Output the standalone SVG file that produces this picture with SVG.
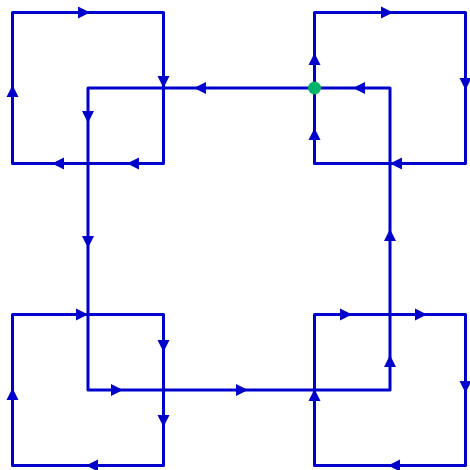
<svg xmlns="http://www.w3.org/2000/svg" xmlns:xlink="http://www.w3.org/1999/xlink" width="470" height="470" viewBox="0 0 470 470">
<style>
.loop{fill:none;stroke:#0000cc;stroke-width:3;stroke-linejoin:round}
.arr{fill:#0000cc}
</style>
<defs>
<path id="a" d="M0,0 L-12,-6 L-12,6 Z"/>
</defs>
<rect width="470" height="470" fill="#ffffff"/>
<g id="connectors">
<rect id="loop-center" class="loop" x="88" y="88" width="302" height="302"/>
<rect id="loop-tl" class="loop" x="12.5" y="12.5" width="151" height="151"/>
<rect id="loop-tr" class="loop" x="314.5" y="12.5" width="151" height="151"/>
<rect id="loop-bl" class="loop" x="12.5" y="314.5" width="151" height="151"/>
<rect id="loop-br" class="loop" x="314.5" y="314.5" width="151" height="151"/>
<g class="arr">
<!-- top-left square -->
<use xlink:href="#a" transform="translate(90,12.5)"/>
<use xlink:href="#a" transform="translate(163.5,88) rotate(90)"/>
<use xlink:href="#a" transform="translate(127,163.5) rotate(180)"/>
<use xlink:href="#a" transform="translate(52,163.5) rotate(180)"/>
<use xlink:href="#a" transform="translate(12.5,85) rotate(-90)"/>
<!-- top-right square -->
<use xlink:href="#a" transform="translate(393,12.5)"/>
<use xlink:href="#a" transform="translate(465.5,90) rotate(90)"/>
<use xlink:href="#a" transform="translate(390,163.5) rotate(180)"/>
<use xlink:href="#a" transform="translate(314.5,53) rotate(-90)"/>
<use xlink:href="#a" transform="translate(314.5,128) rotate(-90)"/>
<!-- central square -->
<use xlink:href="#a" transform="translate(353,88) rotate(180)"/>
<use xlink:href="#a" transform="translate(194,88) rotate(180)"/>
<use xlink:href="#a" transform="translate(88,123) rotate(90)"/>
<use xlink:href="#a" transform="translate(88,248) rotate(90)"/>
<use xlink:href="#a" transform="translate(123,390)"/>
<use xlink:href="#a" transform="translate(248,390)"/>
<use xlink:href="#a" transform="translate(390,355) rotate(-90)"/>
<use xlink:href="#a" transform="translate(390,229) rotate(-90)"/>
<!-- bottom-left square -->
<use xlink:href="#a" transform="translate(88,314.5)"/>
<use xlink:href="#a" transform="translate(163.5,352) rotate(90)"/>
<use xlink:href="#a" transform="translate(163.5,427) rotate(90)"/>
<use xlink:href="#a" transform="translate(86,465.5) rotate(180)"/>
<use xlink:href="#a" transform="translate(12.5,388) rotate(-90)"/>
<!-- bottom-right square -->
<use xlink:href="#a" transform="translate(352,314.5)"/>
<use xlink:href="#a" transform="translate(427,314.5)"/>
<use xlink:href="#a" transform="translate(465.5,393) rotate(90)"/>
<use xlink:href="#a" transform="translate(388,465.5) rotate(180)"/>
<use xlink:href="#a" transform="translate(314.5,389) rotate(-90)"/>
</g>
</g>
<g id="node-start">
<circle cx="314.5" cy="88" r="6.5" fill="#00b36b"/>
</g>
</svg>
